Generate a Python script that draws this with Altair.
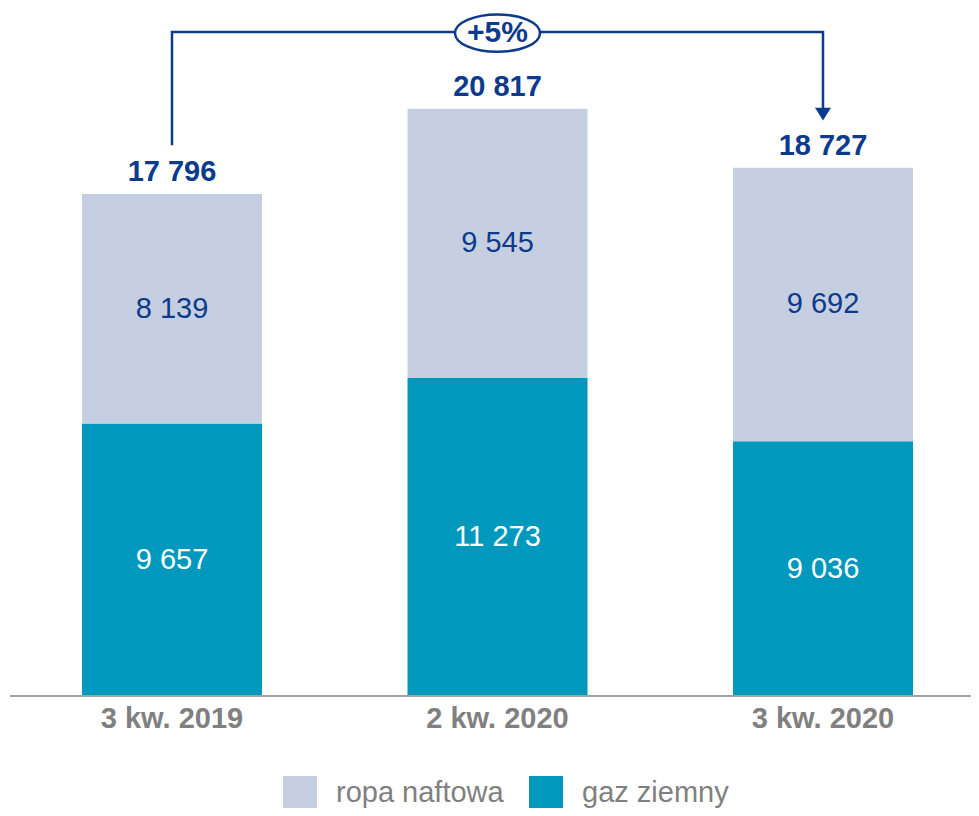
import altair as alt
import pandas as pd

categories = ["3 kw. 2019", "2 kw. 2020", "3 kw. 2020"]
gaz_ziemny = [9657, 11273, 9036]
ropa_naftowa = [8139, 9545, 9692]
totals = [17796, 20817, 18727]
series_names = ["ropa naftowa", "gaz ziemny"]
change_text = "+5%"
# connector path (category, value in data units)
conn_cats = ["3 kw. 2019", "3 kw. 2019", "3 kw. 2020", "3 kw. 2020"]
conn_vals = [19530, 23540, 23540, 20820]
badge_cat = "2 kw. 2020"
badge_val = 23500
arrow_val = 20630

BLUE = "#0C3A8C"
LIGHT = "#C5CFE1"
TEAL = "#0098BD"
GRAY = "#808080"
FONT = "Liberation Sans"
W, H = 961, 684


def fmt(v):
    return f"{v:,}".replace(",", " ")


rows = []
for c, g, r in zip(categories, gaz_ziemny, ropa_naftowa):
    rows.append({"cat": c, "series": "gaz ziemny", "value": g, "ord": 0,
                 "mid": g / 2, "label": fmt(g), "tcol": "white"})
    rows.append({"cat": c, "series": "ropa naftowa", "value": r, "ord": 1,
                 "mid": g + r / 2, "label": fmt(r), "tcol": BLUE})
bars_df = pd.DataFrame(rows)
tot_df = pd.DataFrame({"cat": categories, "total": totals,
                       "label": [fmt(t) for t in totals]})
conn_df = pd.DataFrame({"cat": conn_cats, "val": conn_vals,
                        "i": list(range(len(conn_cats)))})
badge_df = pd.DataFrame({"cat": [badge_cat], "val": [badge_val], "label": [change_text]})
arrow_df = pd.DataFrame({"cat": [conn_cats[-1]], "val": [arrow_val]})
base_df = pd.DataFrame({"v": [0]})

xscale = alt.Scale(domain=categories, range=[72, 903], paddingInner=0.447, paddingOuter=0)
yscale = alt.Scale(domain=[0, 24250], nice=False)

x_axis = alt.Axis(title=None, labelAngle=0, labelFontSize=29, labelFontWeight="bold",
                  labelColor=GRAY, labelPadding=8, domain=False, ticks=False,
                  labelFont=FONT, grid=False)

bars = alt.Chart(bars_df).mark_bar().encode(
    x=alt.X("cat:N", sort=categories, scale=xscale, axis=x_axis),
    y=alt.Y("value:Q", stack="zero", scale=yscale, axis=None),
    color=alt.Color("series:N",
                    scale=alt.Scale(domain=series_names, range=[LIGHT, TEAL]),
                    legend=alt.Legend(title=None, orient="none", legendX=273, legendY=764,
                                      direction="horizontal", symbolType="square",
                                      symbolSize=1156, symbolStrokeWidth=0,
                                      labelFontSize=29, labelFont=FONT, labelColor=GRAY,
                                      labelOffset=19, labelLimit=400, columnPadding=25,
                                      padding=0)),
    order=alt.Order("ord:Q"),
)

baseline = alt.Chart(base_df).mark_rule(color="#A0A0A0", strokeWidth=2).encode(
    x=alt.value(0), x2=alt.value(W), y=alt.Y("v:Q", scale=yscale, axis=None))

seg_labels = alt.Chart(bars_df).mark_text(
    font=FONT, fontSize=29, baseline="middle", align="center").encode(
    x=alt.X("cat:N", sort=categories, scale=xscale),
    y=alt.Y("mid:Q", scale=yscale),
    text="label:N",
    color=alt.Color("tcol:N", scale=None, legend=None),
)

tot_labels = alt.Chart(tot_df).mark_text(
    font=FONT, fontSize=29, fontWeight="bold", baseline="middle", align="center",
    dy=-22, color=BLUE).encode(
    x=alt.X("cat:N", sort=categories, scale=xscale),
    y=alt.Y("total:Q", scale=yscale),
    text="label:N",
)

connector = alt.Chart(conn_df).mark_line(color=BLUE, strokeWidth=2.5).encode(
    x=alt.X("cat:N", sort=categories, scale=xscale),
    y=alt.Y("val:Q", scale=yscale),
    order="i:Q",
)

ellipse_path = "M-1,0 A1,0.44 0 1,1 1,0 A1,0.44 0 1,1 -1,0 Z"
badge = alt.Chart(badge_df).mark_point(
    shape=ellipse_path, size=7225, filled=True, fill="white", stroke=BLUE,
    strokeWidth=2.5, opacity=1).encode(
    x=alt.X("cat:N", sort=categories, scale=xscale),
    y=alt.Y("val:Q", scale=yscale),
)
badge_text = alt.Chart(badge_df).mark_text(
    font=FONT, fontSize=30, fontWeight="bold", color=BLUE, baseline="middle",
    align="center").encode(
    x=alt.X("cat:N", sort=categories, scale=xscale),
    y=alt.Y("val:Q", scale=yscale),
    text="label:N",
)

arrow = alt.Chart(arrow_df).mark_point(
    shape="M-1,-0.8 L1,-0.8 L0,0.8 Z", size=256, filled=True, color=BLUE,
    opacity=1, strokeWidth=0).encode(
    x=alt.X("cat:N", sort=categories, scale=xscale),
    y=alt.Y("val:Q", scale=yscale),
)

chart = alt.layer(bars, baseline, seg_labels, tot_labels, connector, badge,
                  badge_text, arrow).properties(
    width=W, height=H,
    autosize=alt.AutoSizeParams(type="none"),
    padding={"left": 2, "top": 4, "right": 0, "bottom": 112},
).configure_view(stroke=None)

chart.save("out.html", embed_options={"renderer": "svg", "actions": False})
